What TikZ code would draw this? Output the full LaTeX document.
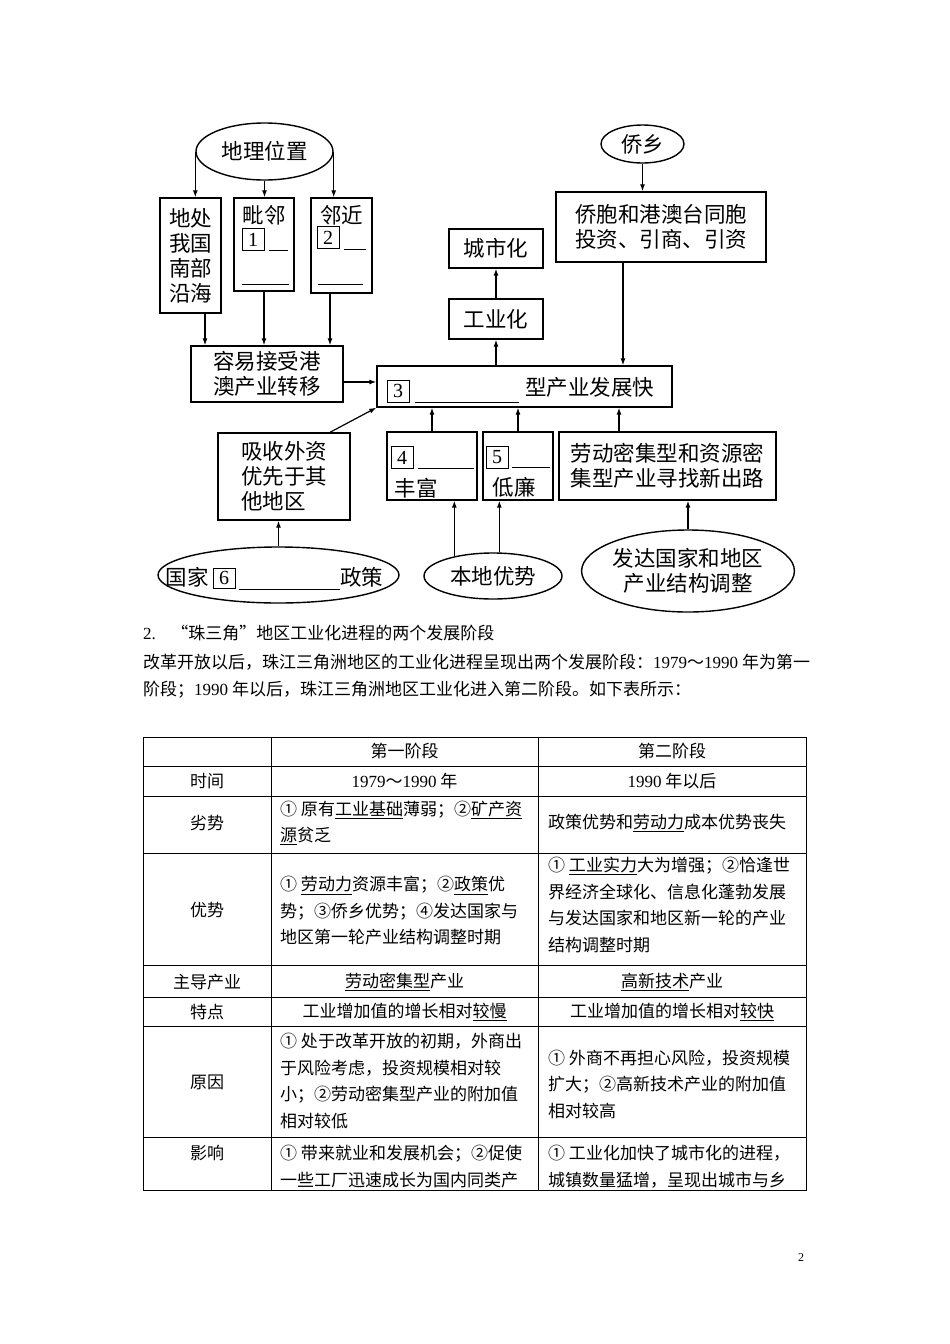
\documentclass[tikz,border=0pt]{standalone}
\usepackage{fontspec}
\setmainfont{Noto Sans CJK SC}
\newfontfamily\tm{Liberation Serif}
\usetikzlibrary{shapes.geometric,arrows.meta}
\begin{document}
\begin{tikzpicture}[x=1pt,y=-1pt,
  dg/.style={font=\fontsize{21.5}{25}\selectfont},
  bx/.style={draw, line width=1.4pt, inner sep=0pt, dg, align=center},
  el/.style={draw, ellipse, line width=1.4pt, inner sep=0pt, dg, align=center},
  arr/.style={line width=1.2pt, -{Latex[length=7pt,width=5pt]}},
  nb/.style={draw, line width=0.8pt, minimum width=22pt, minimum height=22pt, inner sep=0pt, font=\tm\fontsize{20}{20}\selectfont},
  ul/.style={line width=0.9pt},
  tb/.style={font=\fontsize{17}{26.5}\selectfont, inner sep=0pt},
  tl/.style={line width=0.8pt}]
\fill[white] (0,0) rectangle (950,1344);
\useasboundingbox (0,0) rectangle (950,1344);

% ---------- top left ----------
\node[el, minimum width=137pt, minimum height=57pt] (geo) at (264.5,151.5) {地理位置};
\node[bx, minimum width=61pt, minimum height=115pt] (b1) at (190.5,255.5) {地处\\我国\\南部\\沿海};
\node[bx, minimum width=60pt, minimum height=93pt] (b2) at (264,244.5) {};
\node[dg] (b2t) at (264,215) {毗邻};
\node[nb] (n1) at (253,239.5) {1};
\draw[ul] (269,250) -- (288,250);
\draw[ul] (242,284) -- (289,284);
\node[bx, minimum width=61pt, minimum height=95pt] (b3) at (341.5,245.5) {};
\node[dg] (b3t) at (341.5,215) {邻近};
\node[nb] (n2) at (328,237.5) {2};
\draw[ul] (344,249) -- (366,249);
\draw[ul] (318,284) -- (363,284);

\draw[arr] (geo.west) -- (geo.west |- b1.north);
\draw[arr] (geo.south) -- (geo.south |- b2.north);
\draw[arr] (geo.east) -- (geo.east |- b3.north);

\node[bx, minimum width=152pt, minimum height=56pt] (b4) at (267,374) {容易接受港\\澳产业转移};
\draw[arr] ([xshift=14.5pt]b1.south) -- ([xshift=14.5pt]b1.south |- b4.north);
\draw[arr] (b2.south) -- (b2.south |- b4.north);
\draw[arr] ([xshift=-11.5pt]b3.south) -- ([xshift=-11.5pt]b3.south |- b4.north);

% ---------- main box ----------
\node[bx, minimum width=295pt, minimum height=41pt] (m) at (524.5,386.5) {};
\node[nb] (n3) at (398,391) {3};
\draw[ul] (415,402) -- (519,402);
\node[dg] (mt) at (589.5,387) {型产业发展快};
\draw[arr] ([yshift=-8pt]b4.east) -- ([yshift=-8pt]b4.east -| m.west);

\node[bx, minimum width=94pt, minimum height=40pt] (gy) at (496,319) {工业化};
\node[bx, minimum width=94pt, minimum height=39pt] (cs) at (496,248.5) {城市化};
\draw[arr] (gy.south |- m.north) -- (gy.south);
\draw[arr] (gy.north) -- (cs.south);

\node[el, minimum width=83pt, minimum height=38pt] (qx) at (642.5,144) {侨乡};
\node[bx, minimum width=210pt, minimum height=70pt] (qb) at (661,227) {侨胞和港澳台同胞\\投资、引商、引资};
\draw[arr] (qx.south) -- (qx.south |- qb.north);
\draw[arr] ([xshift=-38pt]qb.south) -- ([xshift=-38pt]qb.south |- m.north);

% ---------- bottom ----------
\node[bx, minimum width=132pt, minimum height=87pt, align=left] (xs) at (284,476.5) {吸收外资\\优先于其\\他地区};
\draw[arr] ([xshift=46pt]xs.north) -- (m.south west);
\node[el, minimum width=241pt, minimum height=56pt] (gj) at (278.5,575) {};
\node[dg] (gjt1) at (187,577) {国家};
\node[nb, minimum height=20pt] (n6) at (224,578) {6};
\draw[ul] (239,589) -- (340,589);
\node[dg] (gjt2) at (361.5,577) {政策};
\draw[arr] (gj.north) -- (gj.north |- xs.south);

\node[bx, minimum width=90pt, minimum height=68pt] (f4) at (432,466) {};
\node[nb] (n4) at (402,457.5) {4};
\draw[ul] (418,468) -- (474,468);
\node[dg] (f4t) at (416,488) {丰富};
\node[bx, minimum width=70pt, minimum height=68pt] (f5) at (518,466) {};
\node[nb] (n5) at (497,457) {5};
\draw[ul] (512,467) -- (550,467);
\node[dg] (f5t) at (514,487) {低廉};
\node[bx, minimum width=217pt, minimum height=68pt] (ld) at (667.5,466) {劳动密集型和资源密\\集型产业寻找新出路};

\draw[arr] (f4.north) -- (f4.north |- m.south);
\draw[arr] (f5.north) -- (f5.north |- m.south);
\draw[arr] ([xshift=-48.5pt]ld.north) -- ([xshift=-48.5pt]ld.north |- m.south);

\node[el, minimum width=138pt, minimum height=46pt] (bd) at (493,576) {本地优势};
\draw[arr] (bd.153) -- (bd.153 |- f4.south);
\draw[arr] (bd.75) -- (bd.75 |- f5.south);

\node[el, minimum width=208pt, minimum height=82pt] (fd) at (688,571) {发达国家和地区\\产业结构调整};
\draw[arr] (fd.north) -- (fd.north |- ld.south);

% ---------- paragraph ----------
\node[tb, anchor=west] (p1) at (143,633) {{\tm 2.}\hspace{0.9em}“珠三角”地区工业化进程的两个发展阶段};
\node[tb, anchor=west] (p2) at (143,662) {改革开放以后，珠江三角洲地区的工业化进程呈现出两个发展阶段：{\tm 1979}～{\tm 1990} 年为第一};
\node[tb, anchor=west] (p3) at (143,690) {阶段；{\tm 1990} 年以后，珠江三角洲地区工业化进入第二阶段。如下表所示：};

% ---------- table ----------
\draw[tl] (143,737) rectangle (806,1190);
\foreach \yy in {766,796,853,965,997,1026,1137} \draw[tl] (143,\yy) -- (806,\yy);
\foreach \xx in {271,538} \draw[tl] (\xx,737) -- (\xx,1190);

\node[tb] (h1) at (404.5,751) {第一阶段};
\node[tb] (h2) at (672,751) {第二阶段};

\node[tb] (t0) at (207,781) {时间};
\node[tb] (t1) at (404.5,781) {{\tm 1979}～{\tm 1990} 年};
\node[tb] (t2) at (672,781) {{\tm 1990} 年以后};

\node[tb] (l0) at (207,823) {劣势};
\node[tb, anchor=west, align=left] (l1) at (280,823) {① 原有\underline{工业基础}薄弱；②\underline{矿产资}\\\underline{源}贫乏};
\node[tb, anchor=west] (l2) at (548,823) {政策优势和\underline{劳动力}成本优势丧失};

\node[tb] (y0) at (207,910) {优势};
\node[tb, anchor=west, align=left] (y1) at (280,911) {① \underline{劳动力}资源丰富；②\underline{政策}优\\势；③侨乡优势；④发达国家与\\地区第一轮产业结构调整时期};
\node[tb, anchor=west, align=left] (y2) at (548,905) {① \underline{工业实力}大为增强；②恰逢世\\界经济全球化、信息化蓬勃发展\\与发达国家和地区新一轮的产业\\结构调整时期};

\node[tb] (z0) at (207,982) {主导产业};
\node[tb] (z1) at (404.5,982) {\underline{劳动密集型}产业};
\node[tb] (z2) at (672,982) {\underline{高新技术}产业};

\node[tb] (d0) at (207,1012) {特点};
\node[tb] (d1) at (404.5,1012) {工业增加值的增长相对\underline{较慢}};
\node[tb] (d2) at (672,1012) {工业增加值的增长相对\underline{较快}};

\node[tb] (r0) at (207,1082) {原因};
\node[tb, anchor=west, align=left] (r1) at (280,1081) {① 处于改革开放的初期，外商出\\于风险考虑，投资规模相对较\\小；②劳动密集型产业的附加值\\相对较低};
\node[tb, anchor=west, align=left] (r2) at (548,1084) {① 外商不再担心风险，投资规模\\扩大；②高新技术产业的附加值\\相对较高};

\node[tb] (i0) at (207,1153) {影响};
\node[tb, anchor=west, align=left] (i1) at (280,1166.5) {① 带来就业和发展机会；②促使\\一些工厂迅速成长为国内同类产};
\node[tb, anchor=west, align=left] (i2) at (548,1166.5) {① 工业化加快了城市化的进程，\\城镇数量猛增，呈现出城市与乡};

\node[font=\tm\fontsize{12}{12}\selectfont] (pg) at (801,1258) {2};
\end{tikzpicture}
\end{document}
